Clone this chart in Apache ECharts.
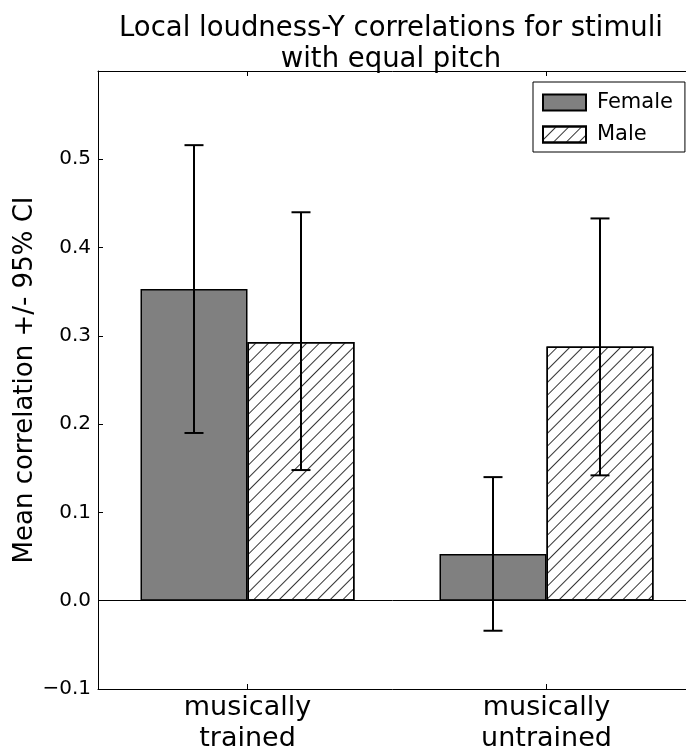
<!DOCTYPE html>
<html>
<head>
<meta charset="utf-8">
<script src="https://cdn.jsdelivr.net/npm/echarts@6/dist/echarts.min.js"></script>
<style>
  html, body { margin: 0; padding: 0; background: #fff; }
  #chart { width: 686px; height: 753px; }
</style>
</head>
<body>
<div id="chart"></div>
<script>
// data
const groups = ['musically\ntrained', 'musically\nuntrained'];
const femaleMean = [0.353, 0.053];
const maleMean = [0.293, 0.288];
const femaleLow = [0.190, -0.034];
const femaleHigh = [0.516, 0.140];
const maleLow = [0.148, 0.142];
const maleHigh = [0.440, 0.433];

const BAR_W = 107;
const FONT = 'DejaVu Sans';

// error bars: [category, low, high, side]  side -1 = female, 1 = male
const errData = [];
groups.forEach((g, i) => {
  errData.push([i, femaleLow[i], femaleHigh[i], -1]);
  errData.push([i, maleLow[i], maleHigh[i], 1]);
});

const chart = echarts.init(document.getElementById('chart'));

const axisLineStyle = { color: '#000', width: 1 };

chart.setOption({
  animation: false,
  textStyle: { fontFamily: FONT, color: '#000' },
  title: {
    text: 'Local loudness-Y correlations for stimuli\nwith equal pitch',
    left: 386,
    top: 8,
    textAlign: 'center',
    textStyle: { fontFamily: FONT, fontSize: 27.5, fontWeight: 'normal', color: '#000', lineHeight: 31 }
  },
  legend: {
    data: ['Female', 'Male'],
    orient: 'vertical',
    left: 533,
    top: 82,
    icon: 'rect',
    itemWidth: 43,
    itemHeight: 16,
    itemGap: 11,
    padding: [10, 12, 7, 9],
    borderColor: '#000',
    borderWidth: 1,
    textStyle: { fontFamily: FONT, fontSize: 21, color: '#000', lineHeight: 16, padding: [0, 0, 0, 6] }
  },
  grid: { left: 98, top: 71, width: 598, height: 618, containLabel: false, outerBoundsMode: 'none' },
  xAxis: [
    {
      type: 'category',
      data: groups,
      axisLine: { show: true, lineStyle: axisLineStyle, onZero: false },
      axisTick: { show: true, inside: true, length: 5, alignWithLabel: true, lineStyle: axisLineStyle },
      axisLabel: { fontFamily: FONT, fontSize: 27, color: '#000', lineHeight: 31, margin: 3 },
      splitLine: { show: false }
    },
    {
      type: 'category',
      position: 'top',
      data: groups,
      axisLine: { show: true, lineStyle: axisLineStyle, onZero: false },
      axisTick: { show: true, inside: true, length: 5, alignWithLabel: true, lineStyle: axisLineStyle },
      axisLabel: { show: false },
      splitLine: { show: false }
    }
  ],
  yAxis: {
    type: 'value',
    min: -0.1,
    max: 0.6,
    interval: 0.1,
    name: 'Mean correlation +/- 95% CI',
    nameLocation: 'middle',
    nameGap: 60,
    nameMoveOverlap: false,
    nameTextStyle: { fontFamily: FONT, fontSize: 26, color: '#000' },
    axisLine: { show: true, lineStyle: axisLineStyle },
    axisTick: { show: true, inside: true, length: 5, lineStyle: axisLineStyle },
    axisLabel: {
      fontFamily: FONT, fontSize: 20, color: '#000', margin: 7,
      showMaxLabel: false,
      formatter: v => (v < 0 ? '\u2212' + Math.abs(v).toFixed(1) : v.toFixed(1))
    },
    splitLine: { show: false }
  },
  series: [
    {
      name: 'Female',
      type: 'bar',
      data: femaleMean,
      barWidth: BAR_W,
      barGap: '0%',
      itemStyle: { color: '#808080', borderColor: '#000', borderWidth: 1.5 },
      markLine: {
        silent: true,
        symbol: 'none',
        label: { show: false },
        lineStyle: { color: '#000', width: 1, type: 'solid' },
        data: [{ yAxis: 0 }]
      },
      z: 2
    },
    {
      name: 'Male',
      type: 'bar',
      data: maleMean,
      barWidth: BAR_W,
      barGap: '0%',
      itemStyle: {
        color: '#fff',
        borderColor: '#000',
        borderWidth: 1.5,
        decal: {
          symbol: 'rect',
          symbolSize: 1,
          color: '#333',
          dashArrayX: [1, 0],
          dashArrayY: [1, 7.5],
          rotation: -Math.PI / 4
        }
      },
      z: 2
    },
    {
      type: 'custom',
      name: 'ci',
      data: errData,
      encode: { x: 0, y: [1, 2] },
      z: 5,
      silent: true,
      renderItem: (params, api) => {
        const idx = api.value(0);
        const side = api.value(3);
        const lo = api.coord([idx, api.value(1)]);
        const hi = api.coord([idx, api.value(2)]);
        const x = lo[0] + side * BAR_W / 2;
        const cap = 9.5;
        const style = { stroke: '#000', lineWidth: 2 };
        return {
          type: 'group',
          children: [
            { type: 'line', shape: { x1: x, y1: lo[1], x2: x, y2: hi[1] }, style: style },
            { type: 'line', shape: { x1: x - cap, y1: hi[1], x2: x + cap, y2: hi[1] }, style: style },
            { type: 'line', shape: { x1: x - cap, y1: lo[1], x2: x + cap, y2: lo[1] }, style: style }
          ]
        };
      }
    }
  ]
});
</script>
</body>
</html>
